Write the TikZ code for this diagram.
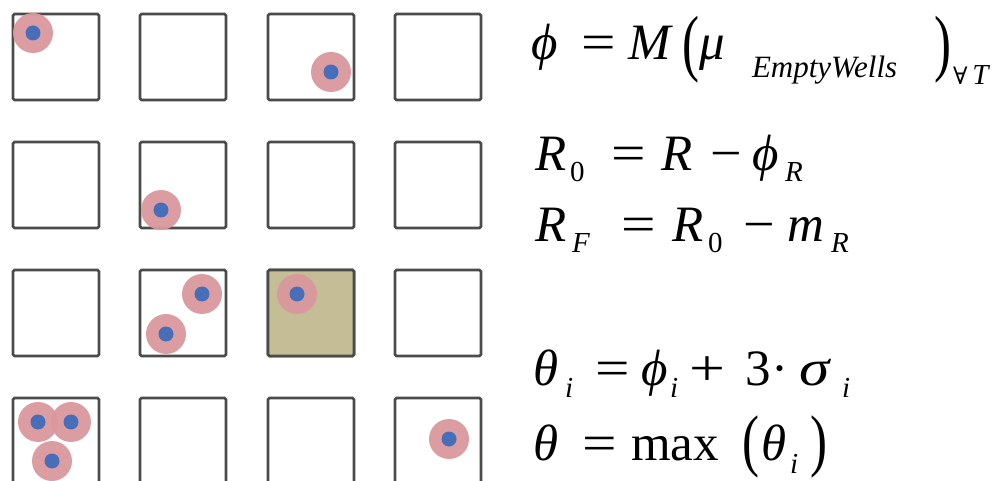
\documentclass[tikz,border=0pt]{standalone}
\usepackage{fontspec}
\usepackage{graphicx}
\setmainfont{Liberation Serif}
\newfontfamily\symfont{DejaVu Serif}
\definecolor{wellgray}{RGB}{75,75,75}
\definecolor{halopink}{RGB}{218,152,158}
\definecolor{coreblue}{RGB}{72,110,185}
\definecolor{khaki}{RGB}{197,189,150}
\newcommand{\tallparen}[3]{\raisebox{#2}{\scalebox{1}[#3]{#1}}}
\newcommand{\wideop}[2]{\scalebox{#1}[1]{#2}}
\newcommand{\mycell}[3]{\node[halo] (#1) at (#2,#3) {}; \node[core] (#1c) at (#1) {};}
\begin{document}
\begin{tikzpicture}[x=1pt,y=-1pt,
  well/.style={draw=wellgray, line width=2.6pt, rounded corners=1.5pt, fill=white, minimum size=86pt, inner sep=0pt, outer sep=0pt},
  halo/.style={circle, fill=halopink, opacity=0.95, minimum size=40pt, inner sep=0pt},
  core/.style={circle, fill=coreblue, minimum size=15pt, inner sep=0pt},
  eq/.style={anchor=base west, inner sep=0pt, outer sep=0pt, font=\fontsize{51}{51}\selectfont},
  sb/.style={anchor=base west, inner sep=0pt, outer sep=0pt, font=\fontsize{29}{29}\selectfont\itshape},
  sbu/.style={anchor=base west, inner sep=0pt, outer sep=0pt, font=\fontsize{29}{29}\selectfont}]
\useasboundingbox (0,0) rectangle (999,481);
\clip (0,0) rectangle (999,481);
% wells
\foreach \r/\yy in {1/57,2/185,3/313,4/441}{
  \foreach \c/\xx in {1/56,2/183,3/311,4/438}{
    \node[well] (w\r\c) at (\xx,\yy) {};
  }
}
\node[well, fill=khaki] (w33k) at (w33) {};
% cells
\mycell{a}{33}{33}
\mycell{b}{331}{72}
\mycell{c}{161}{210}
\mycell{d}{202}{294}
\mycell{e}{166}{334}
\mycell{f}{297}{294}
\mycell{g}{38}{422}
\mycell{h}{71}{422}
\mycell{k}{52}{461}
\mycell{m}{449}{439}
% equation 1
\node[eq] (l1a) at (531,60) {\itshape ϕ};
\node[eq] (l1b) at (581,60) {\wideop{1.2}{=}};
\node[eq] (l1c) at (628,60) {\itshape M};
\node[eq] (l1d) at (682,60) {\tallparen{(}{-8pt}{1.45}};
\node[eq] (l1e) at (699,60) {\itshape μ};
\node[sb] (l1f) at (752,78) {\fontsize{31}{31}\selectfont EmptyWells};
\node[eq] (l1g) at (934,60) {\tallparen{)}{-8pt}{1.45}};
\node[sbu] (l1h) at (953,85) {{\symfont\fontsize{24}{24}\selectfont ∀}\,\itshape T};
% equation 2
\node[eq] (l2a) at (535,171) {\itshape R};
\node[sbu] (l2b) at (570,182) {0};
\node[eq] (l2c) at (611,171) {\wideop{1.2}{=}};
\node[eq] (l2d) at (661,171) {\itshape R};
\node[eq] (l2e) at (710,171) {\wideop{1.1}{−}};
\node[eq] (l2f) at (752,171) {\itshape ϕ};
\node[sb] (l2g) at (785,182) {R};
% equation 3
\node[eq] (l3a) at (535,242) {\itshape R};
\node[sb] (l3b) at (572,253) {F};
\node[eq] (l3c) at (621,242) {\wideop{1.2}{=}};
\node[eq] (l3d) at (672,242) {\itshape R};
\node[sbu] (l3e) at (708,253) {0};
\node[eq] (l3f) at (743,242) {\wideop{1.1}{−}};
\node[eq] (l3g) at (787,242) {\itshape m};
\node[sb] (l3h) at (831,253) {R};
% equation 4
\node[eq] (l4a) at (533,385) {\itshape θ};
\node[sb] (l4b) at (565,397) {i};
\node[eq] (l4c) at (595,385) {\wideop{1.2}{=}};
\node[eq] (l4d) at (641,385) {\itshape ϕ};
\node[sb] (l4e) at (670,397) {i};
\node[eq] (l4f) at (689,385) {\wideop{1.25}{+}};
\node[eq] (l4g) at (745,385) {3};
\node[eq] (l4h) at (771,385) {·};
\node[eq] (l4i) at (799,385) {\wideop{1.2}{\itshape σ}};
\node[sb] (l4j) at (842,397) {i};
% equation 5
\node[eq] (l5a) at (533,460) {\itshape θ};
\node[eq] (l5b) at (582,460) {\wideop{1.2}{=}};
\node[eq] (l5c) at (631,460) {max};
\node[eq] (l5d) at (742,460) {\tallparen{(}{-3pt}{1.35}};
\node[eq] (l5e) at (761,460) {\itshape θ};
\node[sb] (l5f) at (790,473) {i};
\node[eq] (l5g) at (810,460) {\tallparen{)}{-3pt}{1.35}};
\end{tikzpicture}
\end{document}
